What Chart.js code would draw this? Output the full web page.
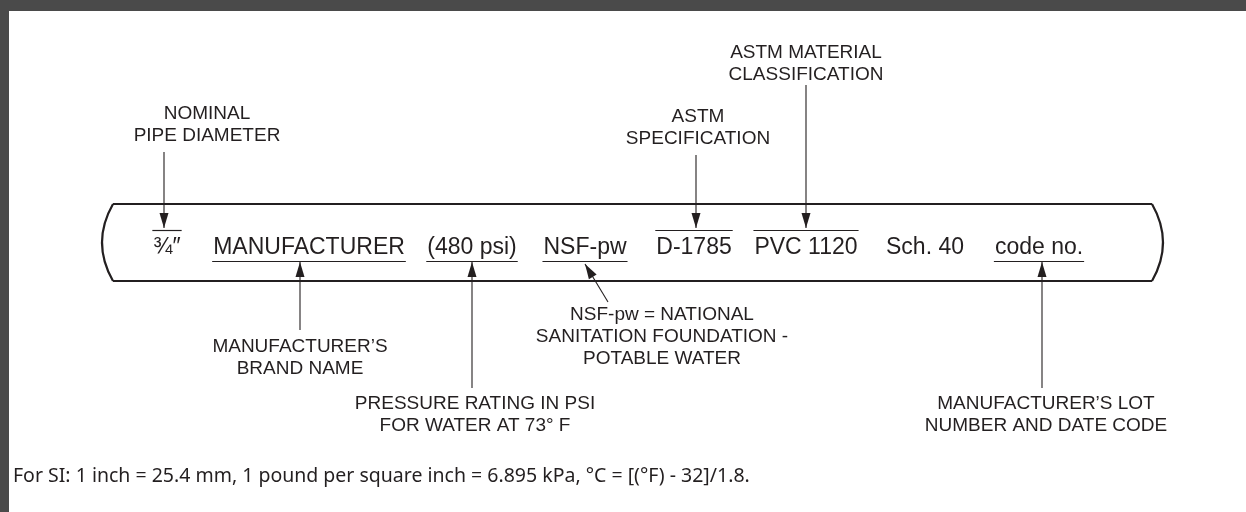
<!DOCTYPE html>
<html><head><meta charset="utf-8">
<script src="https://cdn.jsdelivr.net/npm/chart.js@4.4.1/dist/chart.umd.min.js"></script>
<style>html,body{margin:0;padding:0;background:#fff;overflow:hidden}#wrap{position:relative;width:1246px;height:512px}</style>
</head><body><div id="wrap"><canvas id="c" width="1246" height="512"></canvas></div>
<script>
// ---- diagram content (diagram units = scale units) ----
const markingText = ['¾″','MANUFACTURER','(480 psi)','NSF-pw','D-1785','PVC 1120','Sch. 40','code no.'];
const markingX    = [167, 309, 472, 585, 694, 806, 925, 1039];
const markingRule = ['over','under','under','under','over','over','none','under'];

const calloutLines = [
  ['NOMINAL','PIPE DIAMETER'],
  ['ASTM','SPECIFICATION'],
  ['ASTM MATERIAL','CLASSIFICATION'],
  ['MANUFACTURER’S','BRAND NAME'],
  ['PRESSURE RATING IN PSI','FOR WATER AT 73° F'],
  ['NSF-pw = NATIONAL','SANITATION FOUNDATION -','POTABLE WATER'],
  ['MANUFACTURER’S LOT','NUMBER AND DATE CODE']
];
const calloutX = [207, 698, 806, 300, 475, 662, 1046];
const calloutY = [119, 122, 58, 352, 409, 320, 409];
const leaderFrom = [[164,152],[696,155],[806,85],[300,330],[472,388],[608,302],[1042,388]];
const leaderTo   = [[164,228],[696,228],[806,228],[300,262],[472,262],[585,264],[1042,262]];

const pipeSpan  = [113, 1152];
const pipeEdges = [204, 281];
const textLine  = 254;
const footnote = 'For SI: 1 inch = 25.4 mm, 1 pound per square inch = 6.895 kPa, °C = [(°F) - 32]/1.8.';

const INK = '#231f20';
const datasets = [];
pipeEdges.forEach(y => datasets.push({data:[{x:pipeSpan[0],y},{x:pipeSpan[1],y}], borderWidth:2.2}));
leaderFrom.forEach((f,i) => datasets.push({data:[{x:f[0],y:f[1]},{x:leaderTo[i][0],y:leaderTo[i][1]}], borderWidth:1.1}));
datasets.forEach(d => Object.assign(d,{showLine:true,pointRadius:0,borderColor:INK,fill:false,clip:false}));

const drawPlugin = {
  id:'diagram',
  afterDatasetsDraw(chart){
    const ctx = chart.ctx, sx = chart.scales.x, sy = chart.scales.y;
    const X = v => sx.getPixelForValue(v), Y = v => sy.getPixelForValue(v);
    ctx.save();
    // page frame
    ctx.fillStyle = '#4a4a4a';
    ctx.fillRect(0,0,chart.width,11);
    ctx.fillRect(0,0,9,chart.height);
    // pipe ends
    ctx.strokeStyle = INK; ctx.lineWidth = 2.2;
    ctx.beginPath();
    ctx.moveTo(X(pipeSpan[0]),Y(pipeEdges[0]));
    ctx.quadraticCurveTo(X(pipeSpan[0]-22),Y((pipeEdges[0]+pipeEdges[1])/2),X(pipeSpan[0]),Y(pipeEdges[1]));
    ctx.stroke();
    ctx.beginPath();
    ctx.moveTo(X(pipeSpan[1]),Y(pipeEdges[0]));
    ctx.quadraticCurveTo(X(pipeSpan[1]+22),Y((pipeEdges[0]+pipeEdges[1])/2),X(pipeSpan[1]),Y(pipeEdges[1]));
    ctx.stroke();
    // arrowheads
    ctx.fillStyle = INK;
    leaderTo.forEach((t,i) => {
      const f = leaderFrom[i];
      const tx = X(t[0]), ty = Y(t[1]), fx = X(f[0]), fy = Y(f[1]);
      const a = Math.atan2(ty-fy, tx-fx), L = 15, W = 4.5;
      ctx.beginPath();
      ctx.moveTo(tx,ty);
      ctx.lineTo(tx - L*Math.cos(a) + W*Math.sin(a), ty - L*Math.sin(a) - W*Math.cos(a));
      ctx.lineTo(tx - L*Math.cos(a) - W*Math.sin(a), ty - L*Math.sin(a) + W*Math.cos(a));
      ctx.closePath(); ctx.fill();
    });
    // pipe marking text
    ctx.font = '23px "Liberation Sans", Arial, sans-serif';
    ctx.textAlign = 'center'; ctx.textBaseline = 'alphabetic';
    ctx.lineWidth = 1.2;
    markingText.forEach((s,i) => {
      const cx = X(markingX[i]);
      ctx.fillText(s, cx, Y(textLine));
      const w = ctx.measureText(s).width + 2;
      if (markingRule[i] !== 'none') {
        const ry = markingRule[i]==='over' ? Y(230) : Y(261);
        ctx.beginPath(); ctx.moveTo(cx-w/2, ry+0.5); ctx.lineTo(cx+w/2, ry+0.5); ctx.stroke();
      }
    });
    // callouts
    ctx.font = '19px "Liberation Sans", Arial, sans-serif';
    calloutLines.forEach((lines,i) => {
      lines.forEach((s,j) => ctx.fillText(s, X(calloutX[i]), Y(calloutY[i] + j*21.8)));
    });
    // footnote
    ctx.font = '19.5px "Noto Sans", "Open Sans", sans-serif';
    ctx.textAlign = 'left';
    ctx.fillText(footnote, X(13), Y(482));
    ctx.restore();
  }
};

new Chart(document.getElementById('c'), {
  type:'scatter',
  data:{datasets},
  options:{
    responsive:false, animation:false, devicePixelRatio:1,
    layout:{padding:0},
    plugins:{legend:{display:false}, tooltip:{enabled:false}},
    scales:{
      x:{type:'linear', min:0, max:1246, display:false},
      y:{type:'linear', min:0, max:512, reverse:true, display:false}
    }
  },
  plugins:[drawPlugin]
});
</script>
</body></html>
